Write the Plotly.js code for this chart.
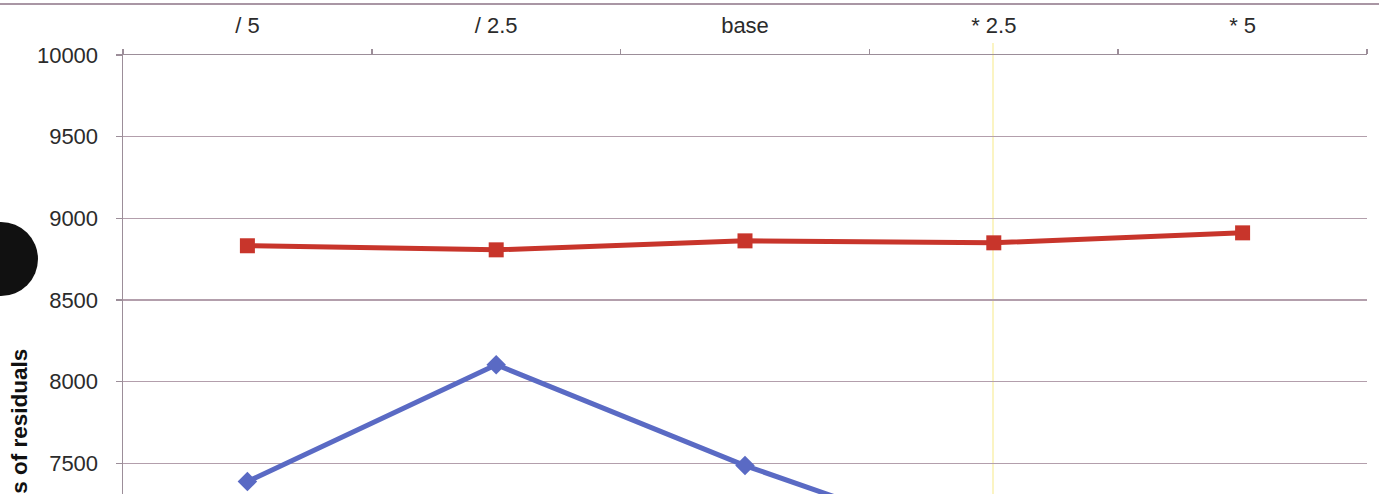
<!DOCTYPE html>
<html>
<head>
<meta charset="utf-8">
<script src="https://cdn.plot.ly/plotly-3.0.1.min.js"></script>
<style>
  html, body { margin: 0; padding: 0; background: #ffffff; overflow: hidden; }
  #chart { width: 1379px; height: 494px; }
</style>
</head>
<body>
<div id="chart"></div>
<script>
// Categories (scaling factor applied)
const categories = ["/ 5", "/ 2.5", "base", "* 2.5", "* 5"];
// Series values
const redSeries = [8832, 8807, 8862, 8850, 8911];
const blueSeries = [7388, 8104, 7486, 6955, 6700];
// Axis ticks
const yTickValues = [7500, 8000, 8500, 9000, 9500, 10000];
const yTickLabels = ["7500", "8000", "8500", "9000", "9500", "10000"];
const yAxisTitle = "Sum of squares of residuals";

const FONT = "'Liberation Sans', Arial, Helvetica, sans-serif";
const GRID = "#b39fac";
const AXIS = "#9c8e99";

const traces = [
  {
    type: "scatter", mode: "lines+markers",
    x: categories, y: blueSeries,
    line: { color: "#5a6ac4", width: 5 },
    marker: { symbol: "diamond", size: 15, color: "#5a6ac4" },
    showlegend: false
  },
  {
    type: "scatter", mode: "lines+markers",
    x: categories, y: redSeries,
    line: { color: "#c8352b", width: 5 },
    marker: { symbol: "square", size: 15, color: "#c8352b" },
    showlegend: false
  }
];

const layout = {
  width: 1379, height: 494,
  margin: { l: 123, r: 12, t: 55, b: 0, pad: 0 },
  paper_bgcolor: "#ffffff", plot_bgcolor: "#ffffff",
  font: { family: FONT, size: 22, color: "#2b2b2b" },
  showlegend: false,
  xaxis: {
    type: "category", side: "top",
    range: [-0.5, 4.5],
    tickson: "boundaries",
    ticks: "outside", ticklen: 5, tickwidth: 1.5, tickcolor: AXIS,
    showline: true, linecolor: AXIS, linewidth: 1.5,
    showgrid: false, zeroline: false,
    ticklabelstandoff: 12,
    tickfont: { family: FONT, size: 22, color: "#2b2b2b" }
  },
  yaxis: {
    range: [7312, 10000],
    tickmode: "array", tickvals: yTickValues, ticktext: yTickLabels,
    ticks: "outside", ticklen: 6, tickwidth: 1.5, tickcolor: AXIS,
    showline: true, linecolor: AXIS, linewidth: 1.5,
    showgrid: true, gridcolor: GRID, gridwidth: 1.5,
    zeroline: false,
    ticklabelstandoff: 13,
    tickfont: { family: FONT, size: 22, color: "#2b2b2b" }
  },
  annotations: [
    {
      text: "<b>" + yAxisTitle + "</b>",
      xref: "paper", yref: "paper",
      x: -104 / 1244, y: -6 / 439,
      xanchor: "center", yanchor: "middle",
      textangle: -90, showarrow: false,
      font: { family: FONT, size: 22.5, color: "#111111" }
    }
  ],
  shapes: [
    // top border line of the figure
    {
      type: "line", xref: "paper", yref: "paper",
      x0: -123 / 1244, x1: 1256 / 1244,
      y0: 1 + 51 / 439, y1: 1 + 51 / 439,
      line: { color: "#a996a4", width: 2 }
    },
    // faint yellow vertical streak
    {
      type: "line", xref: "paper", yref: "paper",
      x0: 870 / 1244, x1: 870 / 1244,
      y0: 0, y1: 1 + 12 / 439,
      line: { color: "rgba(250,240,170,0.7)", width: 2 },
      layer: "below"
    },
    // black dot at the left edge
    {
      type: "circle", xref: "paper", yref: "paper",
      xsizemode: "pixel", ysizemode: "pixel",
      xanchor: 0, yanchor: 1,
      x0: -159, x1: -85,
      y0: -241, y1: -167,
      fillcolor: "#111111", line: { width: 0 }
    }
  ]
};

Plotly.newPlot("chart", traces, layout, { displayModeBar: false, staticPlot: true });
</script>
</body>
</html>
